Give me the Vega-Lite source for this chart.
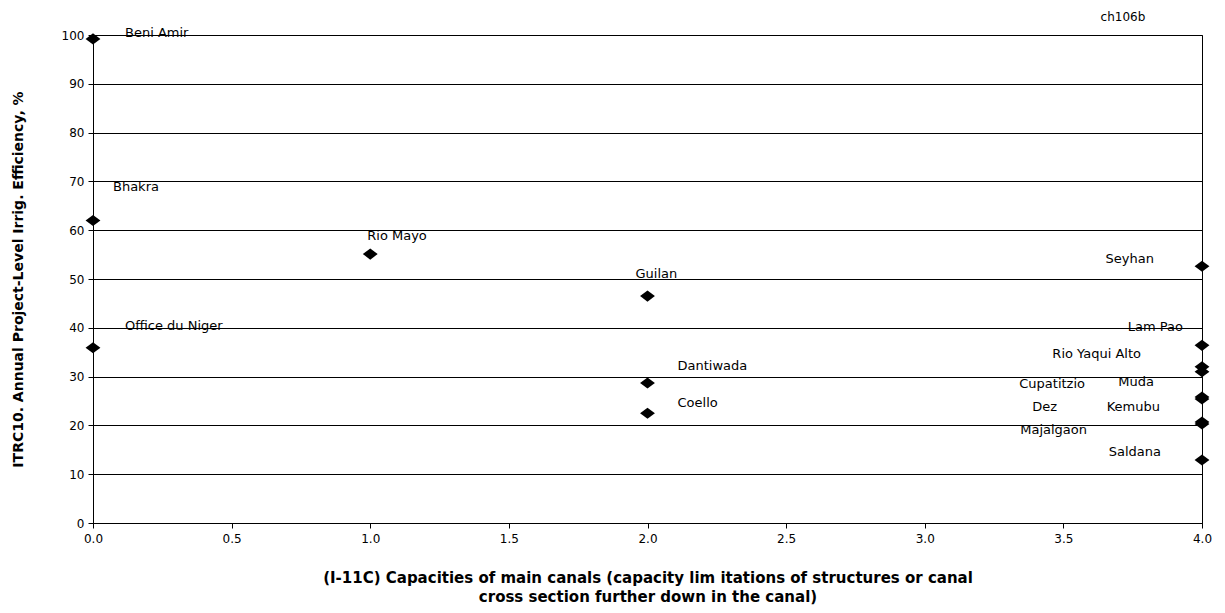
{
  "$schema": "https://vega.github.io/schema/vega-lite/v6.json",
  "autosize": "none",
  "padding": {"left": 93, "top": 35, "right": 23, "bottom": 90},
  "width": 1109,
  "height": 488,
  "background": "white",
  "config": {
    "font": "DejaVu Sans",
    "view": {"stroke": "black", "strokeWidth": 1},
    "text": {"font": "DejaVu Sans", "fontSize": 13, "color": "black", "baseline": "middle"}
  },
  "data": {
    "values": [
      {"name": "Beni Amir", "rating": 0, "eff": 99.2},
      {"name": "Bhakra", "rating": 0, "eff": 62.0},
      {"name": "Office du Niger", "rating": 0, "eff": 35.9},
      {"name": "Rio Mayo", "rating": 1, "eff": 55.1},
      {"name": "Guilan", "rating": 2, "eff": 46.5},
      {"name": "Dantiwada", "rating": 2, "eff": 28.7},
      {"name": "Coello", "rating": 2, "eff": 22.5},
      {"name": "Seyhan", "rating": 4, "eff": 52.6},
      {"name": "Lam Pao", "rating": 4, "eff": 36.4},
      {"name": "Rio Yaqui Alto", "rating": 4, "eff": 32.0},
      {"name": "Cupatitzio", "rating": 4, "eff": 31.0},
      {"name": "Muda", "rating": 4, "eff": 25.8},
      {"name": "Dez", "rating": 4, "eff": 25.4},
      {"name": "Kemubu", "rating": 4, "eff": 20.7},
      {"name": "Majalgaon", "rating": 4, "eff": 20.3},
      {"name": "Saldana", "rating": 4, "eff": 12.9}
    ]
  },
  "encoding": {
    "x": {
      "field": "rating", "type": "quantitative",
      "scale": {"domain": [0, 4], "nice": false, "zero": false},
      "axis": {
        "values": [0, 0.5, 1, 1.5, 2, 2.5, 3, 3.5, 4],
        "format": ".1f", "grid": false, "labelFlush": false,
        "domainColor": "black", "tickColor": "black", "tickSize": 5,
        "labelFontSize": 12, "labelColor": "black", "labelPadding": 5,
        "title": ["(I-11C)  Capacities of main canals (capacity lim itations of structures or canal", "cross section further down in the canal)"],
        "titleFontSize": 15, "titleFontWeight": "bold", "titleColor": "black",
        "titlePadding": 26, "titleLineHeight": 19
      }
    },
    "y": {
      "field": "eff", "type": "quantitative",
      "scale": {"domain": [0, 100], "nice": false},
      "axis": {
        "values": [0, 10, 20, 30, 40, 50, 60, 70, 80, 90, 100],
        "grid": true, "gridColor": "black", "gridOpacity": 1, "gridWidth": 1,
        "domainColor": "black", "tickColor": "black", "tickSize": 5,
        "labelFontSize": 12, "labelColor": "black", "labelPadding": 4,
        "title": "ITRC10.  Annual Project-Level Irrig. Efficiency, %",
        "titleFontSize": 14, "titleFontWeight": "bold", "titleColor": "black",
        "titlePadding": 36
      }
    }
  },
  "layer": [
    {
      "mark": {"type": "point", "shape": "M-1,0L0,-0.75L1,0L0,0.75Z", "filled": true, "color": "black", "opacity": 1, "size": 220, "clip": false}
    },
    {
      "transform": [{"filter": "datum.name === 'Saldana'"}, {"calculate": "'ch106b'", "as": "note"}],
      "mark": {"type": "text", "align": "center", "fontSize": 12, "clip": false},
      "encoding": {
        "x": {"datum": 3.715, "type": "quantitative"},
        "y": {"datum": 103.6, "type": "quantitative"},
        "text": {"field": "note"}
      }
    },
    {"transform": [{"filter": "datum.name === 'Beni Amir'"}], "mark": {"type": "text", "align": "left", "dx": 32, "dy": -6}, "encoding": {"text": {"field": "name"}}},
    {"transform": [{"filter": "datum.name === 'Bhakra'"}], "mark": {"type": "text", "align": "left", "dx": 20, "dy": -33}, "encoding": {"text": {"field": "name"}}},
    {"transform": [{"filter": "datum.name === 'Office du Niger'"}], "mark": {"type": "text", "align": "left", "dx": 32, "dy": -22}, "encoding": {"text": {"field": "name"}}},
    {"transform": [{"filter": "datum.name === 'Rio Mayo'"}], "mark": {"type": "text", "align": "left", "dx": -3, "dy": -18}, "encoding": {"text": {"field": "name"}}},
    {"transform": [{"filter": "datum.name === 'Guilan'"}], "mark": {"type": "text", "align": "left", "dx": -12, "dy": -22}, "encoding": {"text": {"field": "name"}}},
    {"transform": [{"filter": "datum.name === 'Dantiwada'"}], "mark": {"type": "text", "align": "left", "dx": 30, "dy": -17}, "encoding": {"text": {"field": "name"}}},
    {"transform": [{"filter": "datum.name === 'Coello'"}], "mark": {"type": "text", "align": "left", "dx": 30, "dy": -10}, "encoding": {"text": {"field": "name"}}},
    {"transform": [{"filter": "datum.name === 'Seyhan'"}], "mark": {"type": "text", "align": "right", "dx": -48, "dy": -7}, "encoding": {"text": {"field": "name"}}},
    {"transform": [{"filter": "datum.name === 'Lam Pao'"}], "mark": {"type": "text", "align": "right", "dx": -19, "dy": -18}, "encoding": {"text": {"field": "name"}}},
    {"transform": [{"filter": "datum.name === 'Rio Yaqui Alto'"}], "mark": {"type": "text", "align": "right", "dx": -61, "dy": -13}, "encoding": {"text": {"field": "name"}}},
    {"transform": [{"filter": "datum.name === 'Cupatitzio'"}], "mark": {"type": "text", "align": "right", "dx": -117, "dy": 12}, "encoding": {"text": {"field": "name"}}},
    {"transform": [{"filter": "datum.name === 'Muda'"}], "mark": {"type": "text", "align": "right", "dx": -48, "dy": -15}, "encoding": {"text": {"field": "name"}}},
    {"transform": [{"filter": "datum.name === 'Dez'"}], "mark": {"type": "text", "align": "right", "dx": -145, "dy": 8}, "encoding": {"text": {"field": "name"}}},
    {"transform": [{"filter": "datum.name === 'Kemubu'"}], "mark": {"type": "text", "align": "right", "dx": -42, "dy": -15}, "encoding": {"text": {"field": "name"}}},
    {"transform": [{"filter": "datum.name === 'Majalgaon'"}], "mark": {"type": "text", "align": "right", "dx": -115, "dy": 6}, "encoding": {"text": {"field": "name"}}},
    {"transform": [{"filter": "datum.name === 'Saldana'"}], "mark": {"type": "text", "align": "right", "dx": -41, "dy": -8}, "encoding": {"text": {"field": "name"}}}
  ]
}
